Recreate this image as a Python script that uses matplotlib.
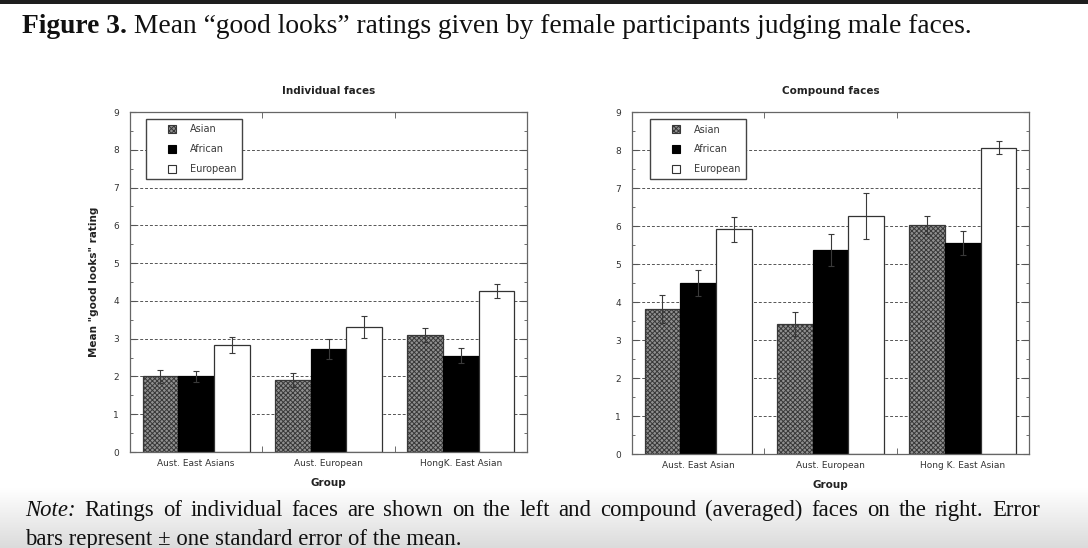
import matplotlib
matplotlib.use("Agg")
import matplotlib.pyplot as plt
import numpy as np
from matplotlib.patches import Patch, Rectangle
from matplotlib.legend_handler import HandlerPatch

groups_ind = ["Aust. East Asians", "Aust. European", "HongK. East Asian"]
groups_cmp = ["Aust. East Asian", "Aust. European", "Hong K. East Asian"]
series = ["Asian", "African", "European"]

ind_asian = [2.00, 1.91, 3.09]
ind_african = [2.00, 2.72, 2.55]
ind_european = [2.83, 3.32, 4.27]
ind_asian_se = [0.17, 0.19, 0.18]
ind_african_se = [0.15, 0.27, 0.19]
ind_european_se = [0.21, 0.29, 0.19]

cmp_asian = [3.81, 3.42, 6.03]
cmp_african = [4.51, 5.37, 5.56]
cmp_european = [5.91, 6.26, 8.06]
cmp_asian_se = [0.37, 0.32, 0.24]
cmp_african_se = [0.34, 0.41, 0.32]
cmp_european_se = [0.34, 0.61, 0.17]

plt.rcParams['hatch.linewidth'] = 0.7

W, H = 1088, 548
fig = plt.figure(figsize=(W / 100, H / 100), dpi=100)
fig.patch.set_facecolor('white')

# background: top dark strip + bottom gradient
bg = fig.add_axes([0, 0, 1, 1], zorder=-10)
bg.axis('off')
bg.axhspan(0, 4, color='#1e1e1e', lw=0)
grad = np.linspace(1.0, 0.86, 60).reshape(-1, 1)
bg.imshow(np.dstack([grad, grad, grad]), extent=(0, W, H, 488), aspect='auto',
          interpolation='bilinear')
bg.set_xlim(0, W)
bg.set_ylim(H, 0)

styles = [
    dict(facecolor='#909090', hatch='xxxxxxx', edgecolor='#383838'),
    dict(facecolor='black', edgecolor='black'),
    dict(facecolor='white', edgecolor='#333333'),
]


def small_square(legend, orig_handle, xdescent, ydescent, width, height, fontsize):
    s = 5.8
    return Rectangle((width - s - 5.0 - xdescent, (height - s) / 2 - ydescent), s, s)


def panel(rect, title, labels, vals, ses, legx):
    ax = fig.add_axes(rect)
    x = np.arange(len(labels))
    w = 0.27
    for i, (v, s) in enumerate(zip(vals, ses)):
        ax.bar(x + (i - 1) * w, v, w, linewidth=0.9, zorder=2, **styles[i])
        ax.errorbar(x + (i - 1) * w, v, yerr=s, fmt='none', ecolor='#3a3a3a',
                    elinewidth=0.8, capsize=2.2, capthick=0.8, zorder=3)
    ax.set_xlim(-0.5, 2.5)
    ax.set_ylim(0, 9)
    ax.set_yticks(range(10))
    ax.set_yticks(np.arange(0.5, 9, 1), minor=True)
    ax.set_xticks(x)
    ax.set_xticklabels(labels)
    ax.set_xticks([0.5, 1.5], minor=True)
    ax.tick_params(axis='x', which='major', length=0, pad=5, labelsize=6.5,
                   labelcolor='#333333')
    ax.tick_params(axis='x', which='minor', direction='in', length=4,
                   top=True, bottom=True, color='#555555')
    ax.tick_params(axis='y', which='both', direction='in', left=True, right=True,
                   labelsize=6.5, labelcolor='#333333', color='#555555')
    ax.tick_params(axis='y', which='major', length=4, pad=8)
    ax.tick_params(axis='y', which='minor', length=2.5)
    for sp in ax.spines.values():
        sp.set_color('#666666')
        sp.set_linewidth(0.9)
    ax.set_axisbelow(True)
    for yv in range(1, 9):
        ax.axhline(yv, color='#555555', lw=0.7, ls=(0, (3, 2)), zorder=1)
    ax.set_title(title, fontsize=7.5, fontweight='bold', color='#222222', pad=13)
    ax.set_xlabel('Group', fontsize=7.5, fontweight='bold', color='#222222',
                  labelpad=7)
    handles = [Patch(linewidth=0.8, **styles[i]) for i in range(3)]
    leg = ax.legend(handles, series, loc='upper left', bbox_to_anchor=(legx, 0.979),
                    borderaxespad=0, fontsize=7, handlelength=3.3, handleheight=0.8,
                    handletextpad=0.7, labelspacing=1.0, fancybox=False,
                    edgecolor='#444444', framealpha=1, borderpad=0.55,
                    handler_map={Patch: HandlerPatch(patch_func=small_square)})
    leg.get_frame().set_linewidth(1.0)
    for t in leg.get_texts():
        t.set_color('#3a3a3a')
    return ax


ax1 = panel([130 / W, 1 - 452 / H, 397 / W, 340 / H], 'Individual faces', groups_ind,
            [ind_asian, ind_african, ind_european],
            [ind_asian_se, ind_african_se, ind_european_se], 0.04)
ax1.set_ylabel('Mean "good looks" rating', fontsize=7.5, fontweight='bold',
               color='#222222', labelpad=10)

ax2 = panel([632 / W, 1 - 454 / H, 397 / W, 342 / H], 'Compound faces', groups_cmp,
            [cmp_asian, cmp_african, cmp_european],
            [cmp_asian_se, cmp_african_se, cmp_european_se], 0.045)

serif = 'Liberation Serif'
renderer = fig.canvas.get_renderer()


def width_of(txt, sz, **kw):
    t = fig.text(0, 0, txt, fontsize=sz, family=serif, **kw)
    wpx = t.get_window_extent(renderer).width
    t.remove()
    return wpx


def put(x, y, txt, sz, **kw):
    return fig.text(x / W, 1 - y / H, txt, fontsize=sz, family=serif,
                    va='baseline', ha='left', color='#111111', **kw)


# title line, scaled to span the reference width
t_bold = 'Figure 3.'
t_rest = ' Mean \u201cgood looks\u201d ratings given by female participants judging male faces.'
w0 = width_of(t_bold, 19.5, fontweight='bold') + width_of(t_rest, 19.5)
ts = 19.5 * (975 - 22) / w0
put(22, 33, t_bold, ts, fontweight='bold')
put(22 + width_of(t_bold, ts, fontweight='bold'), 33, t_rest, ts)

# note: second line sets the font size; first line is justified
line2 = 'bars represent \u00b1 one standard error of the mean.'
ns = 15 * (463 - 25) / width_of(line2, 15)
words = [('Note:', dict(style='italic'))] + [(wd, {}) for wd in
         'Ratings of individual faces are shown on the left and compound (averaged) faces on the right. Error'.split()]
widths = [width_of(wd, ns, **kw) for wd, kw in words]
gap = (1040 - 25 - sum(widths)) / (len(words) - 1)
x = 25
for (wd, kw), wpx in zip(words, widths):
    put(x, 516, wd, ns, **kw)
    x += wpx + gap
put(25, 545, line2, ns)

fig.savefig('out.png', dpi=100)
